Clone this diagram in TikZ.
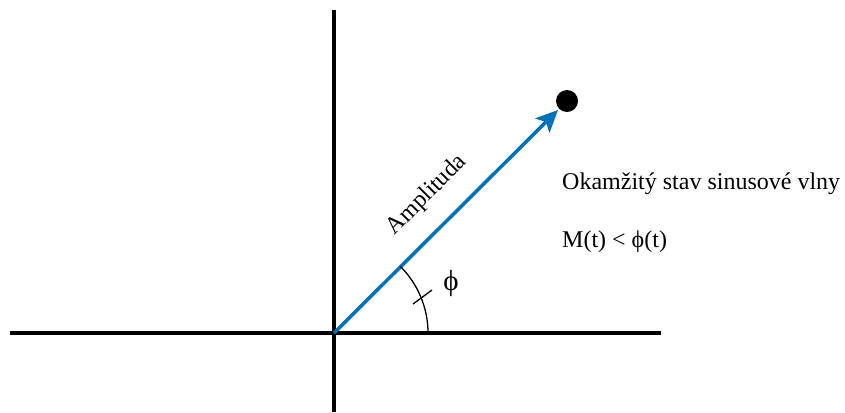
\documentclass[tikz,border=0pt]{standalone}
\usepackage{fontspec}
\setmainfont{Liberation Serif}
\usetikzlibrary{arrows.meta,calc}
\definecolor{vecblue}{RGB}{0,114,188}
\begin{document}
\begin{tikzpicture}[x=1pt,y=-1pt,
  axis/.style={line width=4.5pt,black},
  vec/.style={line width=3.5pt,vecblue,-{Triangle[length=22pt,width=20pt,inset=5pt]}},
  lbl/.style={font=\fontsize{24}{28}\selectfont,inner sep=0pt}]
\useasboundingbox (0,0) rectangle (845,412);
\coordinate (O) at (334,333);
\coordinate (xl) at (10,333);
\coordinate (xr) at (661,333);
\coordinate (yt) at (334,10);
\coordinate (yb) at (334,412);
\draw[axis] (xl) -- (xr);
\draw[axis] (yt) -- (yb);
\node[circle,fill=black,minimum size=22pt,inner sep=0pt] (dot) at (567,101) {};
\coordinate (tip) at (558,110);
\draw[vec] (O) -- (tip);
\draw[line width=1.3pt] ($(O)+(94,0)$) arc[start angle=0,end angle=-45,radius=94];
\coordinate (t1) at (413,304);
\coordinate (t2) at (432,290);
\draw[line width=1.3pt] (t1) -- (t2);
\node[lbl,font=\fontsize{29}{32}\selectfont] (phi) at (451,284) {ϕ};
\node[lbl,rotate=45] (amp) at (427,195) {Amplituda};
\node[lbl,anchor=west] (txt1) at (562,184) {Okamžitý stav sinusové vlny};
\node[lbl,anchor=west] (txt2) at (562,242) {M(t) < ϕ(t)};
\end{tikzpicture}
\end{document}
